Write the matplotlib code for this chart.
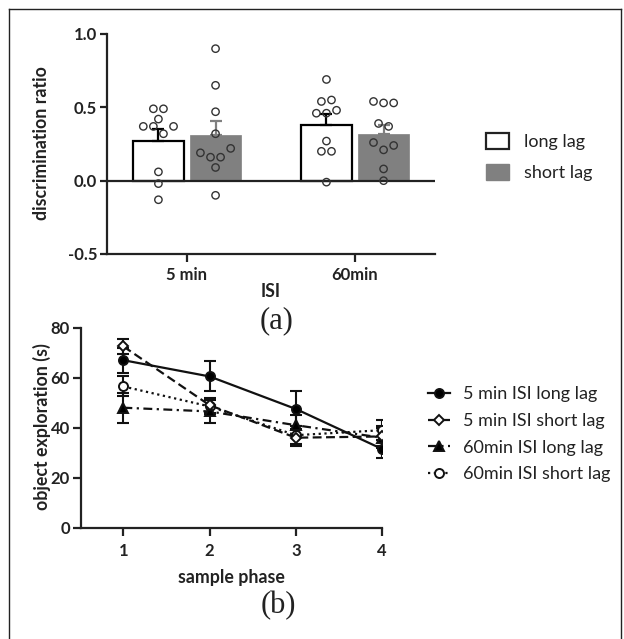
import matplotlib
matplotlib.use("Agg")
import matplotlib.pyplot as plt
from matplotlib.lines import Line2D
from matplotlib.patches import Patch
import numpy as np

plt.rcParams['font.family'] = ['Lato', 'DejaVu Sans']

# ---------------- data (a) ----------------
isi_labels = ['5 min', '60min']
long_mean = [0.27, 0.38]
long_sem = [0.08, 0.075]
short_mean = [0.31, 0.315]
short_sem = [0.095, 0.063]

long_5 = [0.49, 0.49, 0.42, 0.37, 0.37, 0.37, 0.32, 0.06, -0.02, -0.13]
short_5 = [0.90, 0.65, 0.47, 0.32, 0.22, 0.19, 0.16, 0.16, 0.09, -0.10]
long_60 = [0.69, 0.54, 0.55, 0.46, 0.46, 0.48, 0.27, 0.20, 0.20, -0.01]
short_60 = [0.54, 0.53, 0.53, 0.39, 0.37, 0.26, 0.21, 0.24, 0.08, 0.00]

jit_long_5 = [-0.03, 0.03, 0, -0.09, -0.03, 0.09, 0.03, 0, 0, 0]
jit_short_5 = [0, 0, 0, 0, 0.09, -0.09, -0.03, 0.03, 0, 0]
jit_long_60 = [0, -0.03, 0.03, -0.06, 0, 0.06, 0, -0.03, 0.03, 0]
jit_short_60 = [-0.06, 0, 0.06, -0.03, 0.03, -0.06, 0, 0.06, 0, 0]

# ---------------- data (b) ----------------
phases = [1, 2, 3, 4]
s5_long = [67, 60.5, 47.5, 31.5]
s5_long_err = [5, 6, 7, 3.5]
s5_short = [72.5, 49, 36, 36.5]
s5_short_err = [3, 3, 3.5, 4]
s60_long = [48, 46.5, 41, 36]
s60_long_err = [6, 4.5, 4, 4]
s60_short = [56.5, 48.5, 37, 39]
s60_short_err = [4, 3, 3.5, 4]

W, H = 624, 639
fig = plt.figure(figsize=(W / 100, H / 100), dpi=100)

def fx(px):
    return px / W

def fy(py):
    return 1 - py / H

GRAY = '#808080'
INK = '#222222'

# ---------------- panel (a) ----------------
ax1 = fig.add_axes([fx(107), fy(254), fx(435) - fx(107), fy(34) - fy(254)])
xc = np.arange(len(isi_labels))
off = 0.17
bw = 0.304
ax1.bar(xc - off, long_mean, width=bw, facecolor='white', edgecolor='black', linewidth=1.6, zorder=2)
ax1.bar(xc + off, short_mean, width=bw, facecolor=GRAY, edgecolor=GRAY, linewidth=0.5, zorder=2)
ax1.errorbar(xc - off, long_mean, yerr=[np.zeros(2), long_sem], fmt='none', ecolor='black',
             elinewidth=1.6, capsize=4.5, capthick=1.6, zorder=3)
ax1.errorbar(xc + off, short_mean, yerr=[np.zeros(2), short_sem], fmt='none', ecolor=GRAY,
             elinewidth=1.6, capsize=4.5, capthick=1.6, zorder=3)
ax1.axhline(0, color=INK, lw=1.6, zorder=2.5)

groups = [(0 - off, long_5, jit_long_5), (0 + off, short_5, jit_short_5),
          (1 - off, long_60, jit_long_60), (1 + off, short_60, jit_short_60)]
for cx, vals, jit in groups:
    ax1.scatter(cx + np.array(jit), vals, s=28, facecolors='none', edgecolors='#333333',
                linewidths=1.0, zorder=4)

ax1.set_xlim(-0.476, 1.476)
ax1.set_ylim(-0.5, 1.0)
ax1.set_yticks([-0.5, 0.0, 0.5, 1.0])
ax1.set_yticklabels(['-0.5', '0.0', '0.5', '1.0'])
ax1.set_xticks(xc)
ax1.set_xticklabels(isi_labels)
for s in ['top', 'right']:
    ax1.spines[s].set_visible(False)
for s in ['left', 'bottom']:
    ax1.spines[s].set_linewidth(1.6)
    ax1.spines[s].set_color(INK)
ax1.tick_params(axis='both', width=1.6, length=5, labelsize=12, color=INK)
ax1.tick_params(axis='x', length=6, pad=3)
ax1.tick_params(axis='y', pad=2)
for lab in ax1.get_xticklabels() + ax1.get_yticklabels():
    lab.set_fontweight('bold')
    lab.set_color(INK)

fig.text(fx(42), fy(143), 'discrimination ratio', rotation=90, ha='center', va='center',
         fontsize=12.8, fontweight='bold', color=INK)
fig.text(fx(271), fy(292), 'ISI', ha='center', va='center', fontsize=12.8,
         fontweight='bold', color=INK)
fig.text(fx(277), fy(321), '(a)', ha='center', va='center', fontsize=22,
         family='Liberation Serif', color=INK)

leg1 = fig.legend(handles=[Patch(facecolor='white', edgecolor=INK, linewidth=1.6, label='long lag'),
                           Patch(facecolor=GRAY, edgecolor=GRAY, label='short lag')],
                  loc='upper left', bbox_to_anchor=(fx(486), fy(133)), frameon=False,
                  fontsize=13, handlelength=1.25, handleheight=0.95, handletextpad=0.85,
                  labelspacing=0.78, borderpad=0, borderaxespad=0)
for t in leg1.get_texts():
    t.set_color(INK)

# ---------------- panel (b) ----------------
ax2 = fig.add_axes([fx(81), fy(527.7), fx(382) - fx(81), fy(327.7) - fy(527.7)])
series = [
    (s5_long, s5_long_err, 'o', 'black', '-', '5 min ISI long lag'),
    (s5_short, s5_short_err, 'D', 'white', (0, (4, 2)), '5 min ISI short lag'),
    (s60_long, s60_long_err, '^', 'black', (0, (4, 2, 1, 2)), '60min ISI long lag'),
    (s60_short, s60_short_err, 'o', 'white', (0, (1, 1.6)), '60min ISI short lag'),
]
handles = []
for i, (vals, err, mk, fc, ls, lab) in enumerate(series):
    ms = 5.5 if mk == 'D' else 6.5
    ax2.errorbar(phases, vals, yerr=err, fmt='none', ecolor='#111111', elinewidth=1.5,
                 capsize=4.5, capthick=1.5, zorder=2)
    ax2.plot(phases, vals, linestyle=ls, color='#111111', lw=1.6, zorder=3)
    ax2.plot(phases, vals, linestyle='none', marker=mk, markersize=ms, markerfacecolor=fc,
             markeredgecolor='#111111', markeredgewidth=1.4, zorder=5 - i * 0.1)
    handles.append(Line2D([], [], linestyle=ls, color='#111111', lw=1.6, marker=mk,
                          markersize=ms, markerfacecolor=fc, markeredgecolor='#111111',
                          markeredgewidth=1.4, label=lab))

ax2.set_xlim(0.508, 4.0)
ax2.set_ylim(0, 80)
ax2.set_yticks([0, 20, 40, 60, 80])
ax2.set_xticks(phases)
for s in ['top', 'right']:
    ax2.spines[s].set_visible(False)
for s in ['left', 'bottom']:
    ax2.spines[s].set_linewidth(1.6)
    ax2.spines[s].set_color(INK)
ax2.tick_params(axis='both', width=1.6, length=6, labelsize=12, color=INK)
ax2.tick_params(axis='x', pad=5)
ax2.tick_params(axis='y', pad=2)
for lab in ax2.get_xticklabels() + ax2.get_yticklabels():
    lab.set_fontweight('bold')
    lab.set_color(INK)

fig.text(fx(42), fy(427), 'object exploration (s)', rotation=90, ha='center', va='center',
         fontsize=12.8, fontweight='bold', color=INK)
fig.text(fx(231), fy(577), 'sample phase', ha='center', va='center', fontsize=12.8,
         fontweight='bold', color=INK)
fig.text(fx(278), fy(606), '(b)', ha='center', va='center', fontsize=22,
         family='Liberation Serif', color=INK)

leg2 = fig.legend(handles=handles, loc='upper left', bbox_to_anchor=(fx(428), fy(386)),
                  frameon=False, fontsize=13, handlelength=1.2, handletextpad=0.75,
                  labelspacing=0.6, borderpad=0, borderaxespad=0)
for t in leg2.get_texts():
    t.set_color(INK)

# ---------------- outer frame ----------------
for (x0, y0, x1, y1) in [(8.5, 8.5, 621, 8.5), (8.5, 8.5, 8.5, 640), (621, 8.5, 621, 640)]:
    fig.add_artist(Line2D([fx(x0), fx(x1)], [fy(y0), fy(y1)], color=INK, lw=1.0,
                          transform=fig.transFigure))

fig.savefig('out.png', dpi=100)
